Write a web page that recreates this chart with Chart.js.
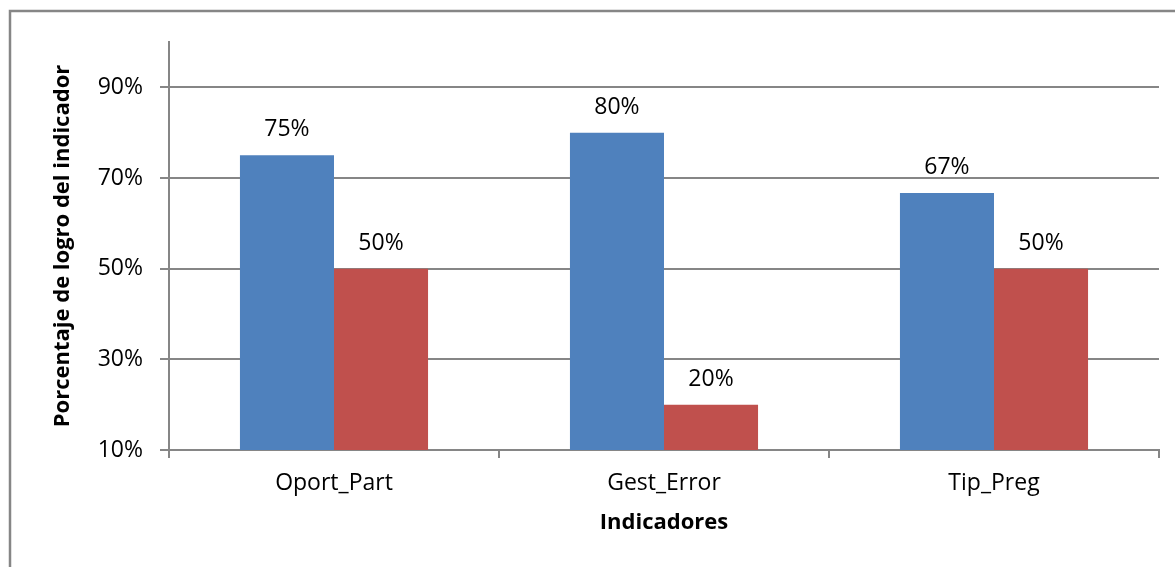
<!DOCTYPE html>
<html>
<head>
<meta charset="utf-8">
<script src="https://cdn.jsdelivr.net/npm/chart.js@4/dist/chart.umd.min.js"></script>
<style>
  html, body { margin: 0; padding: 0; background: #fff; }
  #wrap { width: 1175px; height: 567px; }
</style>
</head>
<body>
<div id="wrap"><canvas id="logroChart" width="1175" height="567"></canvas></div>
<script>
const categories = ["Oport_Part", "Gest_Error", "Tip_Preg"];
const serieAzul = [75, 80, 66.7];
const serieRoja = [50, 20, 50];
const yTicks = [10, 30, 50, 70, 90];

const gris = "#868686";
const fuente = "'Open Sans', 'Noto Sans', sans-serif";

// marco exterior del grafico
const marco = {
  id: "marco",
  beforeDraw(chart) {
    const c = chart.ctx;
    c.save();
    c.fillStyle = "#fff";
    c.fillRect(0, 0, chart.width, chart.height);
    c.strokeStyle = gris;
    c.lineWidth = 2.5;
    c.beginPath();
    c.moveTo(10, chart.height);
    c.lineTo(10, 11);
    c.lineTo(chart.width, 11);
    c.stroke();
    c.restore();
  }
};

// etiquetas de valor encima de cada barra
const etiquetas = {
  id: "etiquetas",
  afterDatasetsDraw(chart) {
    const c = chart.ctx;
    c.save();
    c.font = "23px " + fuente;
    c.fillStyle = "#000";
    c.textAlign = "center";
    c.textBaseline = "bottom";
    chart.data.datasets.forEach((ds, i) => {
      chart.getDatasetMeta(i).data.forEach((bar, j) => {
        c.fillText(Math.round(ds.data[j]) + "%", bar.x, bar.y - 14);
      });
    });
    c.restore();
  }
};

const ctx = document.getElementById("logroChart").getContext("2d");
new Chart(ctx, {
  type: "bar",
  data: {
    labels: categories,
    datasets: [
      {
        label: "Serie 1",
        data: serieAzul,
        backgroundColor: "#4F81BD",
        categoryPercentage: 0.57,
        barPercentage: 1.0
      },
      {
        label: "Serie 2",
        data: serieRoja,
        backgroundColor: "#C0504D",
        categoryPercentage: 0.57,
        barPercentage: 1.0
      }
    ]
  },
  options: {
    responsive: false,
    animation: false,
    layout: { padding: { left: 0, right: 16, top: 42, bottom: 0 } },
    plugins: {
      legend: { display: false },
      tooltip: { enabled: false }
    },
    scales: {
      x: {
        grid: {
          offset: true,
          drawOnChartArea: false,
          drawTicks: true,
          tickLength: 8,
          color: gris,
          lineWidth: 2
        },
        border: { display: true, color: gris, width: 2 },
        ticks: {
          color: "#000",
          font: { family: fuente, size: 23 },
          padding: 12
        },
        title: {
          display: true,
          text: "Indicadores",
          color: "#000",
          font: { family: fuente, size: 22, weight: "bold" },
          padding: { top: 0, bottom: 31 }
        },
        afterFit(scale) { scale.height = 117; }
      },
      y: {
        min: 10,
        max: 100,
        afterBuildTicks(scale) {
          scale.ticks = yTicks.map(v => ({ value: v }));
        },
        grid: {
          color: gris,
          lineWidth: 2,
          tickLength: 9
        },
        border: { display: true, color: gris, width: 2 },
        ticks: {
          color: "#000",
          font: { family: fuente, size: 23 },
          padding: 17,
          callback: v => v + "%"
        },
        title: {
          display: true,
          text: "Porcentaje de logro del indicador",
          color: "#000",
          font: { family: fuente, size: 22, weight: "bold" },
          padding: { top: 50, bottom: 0 }
        },
        afterFit(scale) { scale.width = 169; }
      }
    }
  },
  plugins: [marco, etiquetas]
});
</script>
</body>
</html>
